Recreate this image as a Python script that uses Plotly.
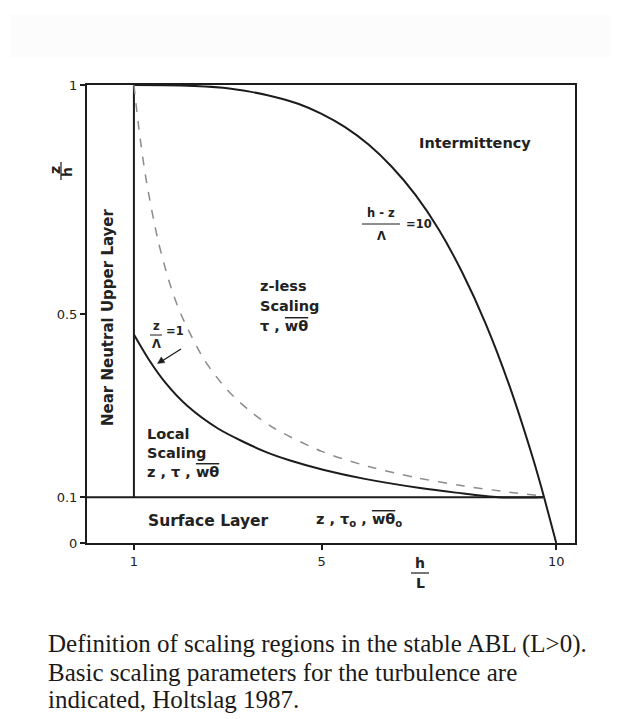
import plotly.graph_objects as go

# ---------------- data ----------------
x_ticks = [1, 5, 10]
x_ticktext = ["1", "5", "10"]
y_ticks = [0, 0.1, 0.5, 1]
y_ticktext = ["0", "0.1", "0.5", "1"]

# (h-z)/Lambda = 10 boundary
top_x = [1.0, 2.0, 2.9, 3.5, 4.0, 4.5, 5.0, 5.5, 6.0, 6.5, 7.0, 7.5, 8.0, 8.5, 9.0, 9.5, 9.7, 10.0]
top_y = [1.0, 0.999, 0.994, 0.985, 0.974, 0.959, 0.937, 0.908, 0.870, 0.821, 0.760, 0.684, 0.590, 0.478, 0.344, 0.186, 0.115, 0.0]

# z/Lambda = 1 boundary
local_x = [1.0, 1.32, 1.67, 2.13, 2.79, 3.78, 4.33, 5.03, 5.92, 7.10, 7.86, 8.77, 9.72]
local_y = [0.455, 0.40, 0.35, 0.30, 0.25, 0.20, 0.18, 0.16, 0.14, 0.12, 0.11, 0.10, 0.10]

# dashed boundary
dash_x = [1.0, 1.1, 1.25, 1.5, 1.75, 2.0, 2.5, 3.0, 3.5, 4.0, 5.0, 6.0, 7.0, 8.0, 9.0, 9.7]
dash_y = [1.0, 0.91, 0.80, 0.667, 0.571, 0.50, 0.40, 0.333, 0.286, 0.25, 0.20, 0.167, 0.143, 0.125, 0.111, 0.103]

# region borders
upper_x = [1, 1]
upper_y = [0.1, 1.0]
surface_x = [0, 9.72]
surface_y = [0.1, 0.1]

# ---------------- layout helpers ----------------
OFF = 8                      # page body margin
W, H = 618 - OFF, 719 - OFF
L, R, T, B = 87, 575, 85, 543   # plot area in page pixels


def PX(px):
    return (px - L) / (R - L)


def PY(py):
    return (B - py) / (B - T)


INK = "#1c1c1c"
fig = go.Figure()

for xs, ys in [(upper_x, upper_y), (surface_x, surface_y)]:
    fig.add_trace(go.Scatter(x=xs, y=ys, mode="lines",
                             line=dict(color=INK, width=2), hoverinfo="skip",
                             showlegend=False, cliponaxis=False))
for xs, ys in [(top_x, top_y), (local_x, local_y)]:
    fig.add_trace(go.Scatter(x=xs, y=ys, mode="lines",
                             line=dict(color=INK, width=2, shape="spline", smoothing=0.8),
                             hoverinfo="skip", showlegend=False, cliponaxis=False))

fig.add_trace(go.Scatter(x=dash_x, y=dash_y, mode="lines",
                         line=dict(color="#8c8c8c", width=1.5, dash="dash",
                                   shape="spline", smoothing=0.8),
                         hoverinfo="skip", showlegend=False))

BF = dict(family="DejaVu Sans", size=14.5, color="#222222")
OV = "<span style='text-decoration:overline'>wθ</span>"

ann = []


def txt(s, px, py, xanchor="left", yanchor="middle", font=None, angle=0):
    ann.append(dict(text=s, x=PX(px), y=PY(py), xref="paper", yref="paper",
                    xanchor=xanchor, yanchor=yanchor, showarrow=False,
                    font=font or BF, textangle=angle))


txt("<b>Intermittency</b>", 417, 143)
txt("<b>z-less</b>", 258, 286)
txt("<b>Scaling</b>", 258, 306)
txt("<b>τ , " + OV + "</b>", 258, 326)
txt("<b>Local</b>", 145, 434)
txt("<b>Scaling</b>", 145, 453)
txt("<b>z , τ , " + OV + "</b>", 145, 472)
txt("<b>Surface Layer</b>", 146, 521, font=dict(family="DejaVu Sans", size=15.5, color="#222222"))
txt("<b>z , τ<sub>o</sub> , " + OV + "<sub>o</sub></b>", 314, 520)
txt("<b>Near Neutral Upper Layer</b>", 108, 317, xanchor="center", angle=-90,
    font=dict(family="DejaVu Sans", size=15, color="#222222"))

SF = dict(family="DejaVu Sans", size=11.5, color="#222222")
# (h-z)/Lambda = 10
txt("<b>h - z</b>", 381, 213, xanchor="center", font=SF)
txt("<b>Λ</b>", 381, 236, xanchor="center", font=SF)
txt("<b>=10</b>", 404, 224, font=SF)
# z/Lambda = 1
txt("<b>z</b>", 156, 326, xanchor="center", font=SF)
txt("<b>Λ</b>", 156, 344, xanchor="center", font=SF)
txt("<b>=1</b>", 164, 331, font=SF)

# axis titles
AF = dict(family="DejaVu Sans", size=14, color="#222222")
txt("<b>h</b>", 420, 563, xanchor="center", font=AF)
txt("<b>L</b>", 420, 583, xanchor="center", font=AF)
txt("<b>z</b>", 55, 170, xanchor="center", font=AF, angle=-90)
txt("<b>h</b>", 67, 172, xanchor="center", font=AF, angle=-90)

# caption
CF = dict(family="Liberation Serif", size=25, color="#1a1a1a")
txt("Definition of scaling regions in the stable ABL (L>0).", 46, 644, font=CF)
txt("Basic scaling parameters for the turbulence are", 46, 672, font=CF)
txt("indicated, Holtslag 1987.", 46, 699, font=CF)


def path(points):
    return "M " + " L ".join(f"{PX(a):.5f},{PY(b):.5f}" for a, b in points) + " Z"


shapes = [
    dict(type="line", xref="paper", yref="paper", x0=PX(362), x1=PX(400),
         y0=PY(224), y1=PY(224), line=dict(color=INK, width=1)),
    dict(type="line", xref="paper", yref="paper", x0=PX(150), x1=PX(162),
         y0=PY(335), y1=PY(335), line=dict(color=INK, width=1)),
    dict(type="line", xref="paper", yref="paper", x0=PX(411), x1=PX(429),
         y0=PY(573), y1=PY(573), line=dict(color=INK, width=1.2)),
    dict(type="line", xref="paper", yref="paper", x0=PX(61), x1=PX(61),
         y0=PY(162), y1=PY(180), line=dict(color=INK, width=1.2)),
    # arrow to the z/Lambda = 1 curve
    dict(type="line", xref="paper", yref="paper", x0=PX(181), x1=PX(162),
         y0=PY(349), y1=PY(361), line=dict(color=INK, width=1.3)),
    dict(type="path", xref="paper", yref="paper",
         path=path([(157.5, 363.5), (164.9, 362.6), (161.3, 356.9)]),
         fillcolor=INK, line=dict(color=INK, width=0.5)),
    dict(type="rect", xref="paper", yref="paper", x0=PX(10), x1=PX(610),
         y0=PY(15), y1=PY(57), fillcolor="#fcfcfc", line=dict(width=0),
         layer="below"),
]

fig.update_layout(
    width=W, height=H,
    margin=dict(l=L - OFF, r=(W + OFF) - R, t=T - OFF, b=(H + OFF) - B, autoexpand=False),
    paper_bgcolor="white", plot_bgcolor="white",
    showlegend=False,
    annotations=ann, shapes=shapes,
    xaxis=dict(range=[0, 10.4], tickvals=x_ticks, ticktext=x_ticktext,
               showgrid=False, zeroline=False, showline=True, mirror=True,
               linecolor=INK, linewidth=2, ticks="outside", ticklen=5,
               tickwidth=1.5, tickcolor=INK,
               tickfont=dict(family="DejaVu Sans", size=13, color="#222222"),
               automargin=False, fixedrange=True),
    yaxis=dict(range=[0, 1], tickvals=y_ticks, ticktext=y_ticktext,
               showgrid=False, zeroline=False, showline=True, mirror=True,
               linecolor=INK, linewidth=2, ticks="outside", ticklen=5,
               tickwidth=1.5, tickcolor=INK,
               tickfont=dict(family="DejaVu Sans", size=13, color="#222222"),
               automargin=False, fixedrange=True),
)

fig.write_html("out.html")
